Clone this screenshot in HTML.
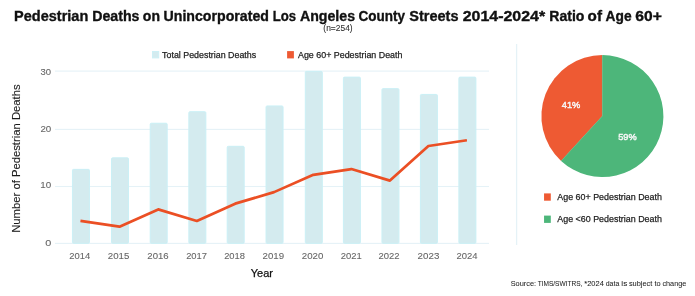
<!DOCTYPE html>
<html><head><meta charset="utf-8"><style>
html,body{margin:0;padding:0;background:#fff;width:695px;height:296px;overflow:hidden}
svg{display:block;font-family:"Liberation Sans",sans-serif;will-change:transform}
.tick{font-size:9.5px;fill:#555}
.leg{font-size:8.8px;fill:#222}
</style></head><body>
<svg width="695" height="296" viewBox="0 0 695 296">
<text x="14.13" y="21.2" font-size="14.4" font-weight="bold" stroke="#111" stroke-width="0.35" fill="#111" textLength="74.12" lengthAdjust="spacingAndGlyphs">Pedestrian</text>
<text x="92.25" y="21.2" font-size="14.4" font-weight="bold" stroke="#111" stroke-width="0.35" fill="#111" textLength="47.23" lengthAdjust="spacingAndGlyphs">Deaths</text>
<text x="142.85" y="21.2" font-size="14.4" font-weight="bold" stroke="#111" stroke-width="0.35" fill="#111" textLength="17.12" lengthAdjust="spacingAndGlyphs">on</text>
<text x="163.55" y="21.2" font-size="14.4" font-weight="bold" stroke="#111" stroke-width="0.35" fill="#111" textLength="105.38" lengthAdjust="spacingAndGlyphs">Unincorporated</text>
<text x="272.72" y="21.2" font-size="14.4" font-weight="bold" stroke="#111" stroke-width="0.35" fill="#111" textLength="23.42" lengthAdjust="spacingAndGlyphs">Los</text>
<text x="299.95" y="21.2" font-size="14.4" font-weight="bold" stroke="#111" stroke-width="0.35" fill="#111" textLength="55.13" lengthAdjust="spacingAndGlyphs">Angeles</text>
<text x="358.45" y="21.2" font-size="14.4" font-weight="bold" stroke="#111" stroke-width="0.35" fill="#111" textLength="46.53" lengthAdjust="spacingAndGlyphs">County</text>
<text x="409.28" y="21.2" font-size="14.4" font-weight="bold" stroke="#111" stroke-width="0.35" fill="#111" textLength="49.21" lengthAdjust="spacingAndGlyphs">Streets</text>
<text x="462.75" y="21.2" font-size="14.4" font-weight="bold" stroke="#111" stroke-width="0.35" fill="#111" textLength="82.37" lengthAdjust="spacingAndGlyphs">2014-2024*</text>
<text x="549.36" y="21.2" font-size="14.4" font-weight="bold" stroke="#111" stroke-width="0.35" fill="#111" textLength="35.09" lengthAdjust="spacingAndGlyphs">Ratio</text>
<text x="587.61" y="21.2" font-size="14.4" font-weight="bold" stroke="#111" stroke-width="0.35" fill="#111" textLength="14.36" lengthAdjust="spacingAndGlyphs">of</text>
<text x="605.56" y="21.2" font-size="14.4" font-weight="bold" stroke="#111" stroke-width="0.35" fill="#111" textLength="26.01" lengthAdjust="spacingAndGlyphs">Age</text>
<text x="635.33" y="21.2" font-size="14.4" font-weight="bold" stroke="#111" stroke-width="0.35" fill="#111" textLength="26.51" lengthAdjust="spacingAndGlyphs">60+</text>
<text x="323.38" y="30.6" font-size="8.2" stroke="#333" stroke-width="0.1" fill="#333" textLength="29.24" lengthAdjust="spacingAndGlyphs">(n=254)</text>
<rect x="152.5" y="51.5" width="6.2" height="6.4" fill="#d4ebef" stroke="#cdf0f6" stroke-width="1"/>
<text x="162.10" y="57.7" font-size="9.0" stroke="#222" stroke-width="0.25" fill="#222" textLength="94.11" lengthAdjust="spacingAndGlyphs">Total Pedestrian Deaths</text>
<rect x="287.1" y="51.1" width="6.8" height="7.3" fill="#ee5a33"/>
<text x="297.98" y="57.7" font-size="9.0" stroke="#222" stroke-width="0.25" fill="#222" textLength="104.49" lengthAdjust="spacingAndGlyphs">Age 60+ Pedestrian Death</text>
<rect x="55" y="242.85" width="434" height="1.1" fill="#e5f2f7"/><rect x="55" y="185.95" width="434" height="1.1" fill="#e5f2f7"/><rect x="55" y="128.85" width="434" height="1.1" fill="#e5f2f7"/><rect x="55" y="70.55" width="434" height="1.1" fill="#e5f2f7"/>
<rect x="72.45" y="169.36" width="17" height="73.94" rx="1" fill="#d4ebef" stroke="#cbf0f6" stroke-width="1"/><rect x="111.50" y="157.83" width="17" height="85.47" rx="1" fill="#d4ebef" stroke="#cbf0f6" stroke-width="1"/><rect x="150.20" y="123.24" width="17" height="120.06" rx="1" fill="#d4ebef" stroke="#cbf0f6" stroke-width="1"/><rect x="188.85" y="111.71" width="17" height="131.59" rx="1" fill="#d4ebef" stroke="#cbf0f6" stroke-width="1"/><rect x="227.20" y="146.30" width="17" height="97.00" rx="1" fill="#d4ebef" stroke="#cbf0f6" stroke-width="1"/><rect x="266.05" y="105.94" width="17" height="137.36" rx="1" fill="#d4ebef" stroke="#cbf0f6" stroke-width="1"/><rect x="305.30" y="71.35" width="17" height="171.95" rx="1" fill="#d4ebef" stroke="#cbf0f6" stroke-width="1"/><rect x="343.40" y="77.12" width="17" height="166.19" rx="1" fill="#d4ebef" stroke="#cbf0f6" stroke-width="1"/><rect x="381.95" y="88.65" width="17" height="154.66" rx="1" fill="#d4ebef" stroke="#cbf0f6" stroke-width="1"/><rect x="420.40" y="94.41" width="17" height="148.89" rx="1" fill="#d4ebef" stroke="#cbf0f6" stroke-width="1"/><rect x="458.90" y="77.12" width="17" height="166.19" rx="1" fill="#d4ebef" stroke="#cbf0f6" stroke-width="1"/>
<polyline points="80.45,220.94 119.50,226.71 158.20,209.41 196.85,220.94 235.20,203.65 274.05,192.12 313.30,174.82 351.40,169.06 389.95,180.59 428.40,146.00 466.90,140.23" fill="none" stroke="#eb4f24" stroke-width="2.7" stroke-linejoin="round"/>
<text x="40.54" y="74.9" font-size="9.9" stroke="#666" stroke-width="0.1" fill="#666" textLength="10.53" lengthAdjust="spacingAndGlyphs">30</text><text x="40.41" y="132.1" font-size="9.9" stroke="#666" stroke-width="0.1" fill="#666" textLength="10.87" lengthAdjust="spacingAndGlyphs">20</text><text x="40.35" y="188.1" font-size="9.9" stroke="#666" stroke-width="0.1" fill="#666" textLength="10.93" lengthAdjust="spacingAndGlyphs">10</text><text x="45.28" y="245.5" font-size="9.9" stroke="#666" stroke-width="0.1" fill="#666" textLength="6.05" lengthAdjust="spacingAndGlyphs">0</text>
<text x="69.23" y="258.5" font-size="9.8" stroke="#666" stroke-width="0.1" fill="#666" textLength="20.95" lengthAdjust="spacingAndGlyphs">2014</text>
<text x="107.81" y="258.5" font-size="9.8" stroke="#666" stroke-width="0.1" fill="#666" textLength="21.60" lengthAdjust="spacingAndGlyphs">2015</text>
<text x="147.32" y="258.5" font-size="9.8" stroke="#666" stroke-width="0.1" fill="#666" textLength="21.30" lengthAdjust="spacingAndGlyphs">2016</text>
<text x="186.13" y="258.5" font-size="9.8" stroke="#666" stroke-width="0.1" fill="#666" textLength="20.84" lengthAdjust="spacingAndGlyphs">2017</text>
<text x="224.13" y="258.5" font-size="9.8" stroke="#666" stroke-width="0.1" fill="#666" textLength="20.78" lengthAdjust="spacingAndGlyphs">2018</text>
<text x="262.51" y="258.5" font-size="9.8" stroke="#666" stroke-width="0.1" fill="#666" textLength="21.55" lengthAdjust="spacingAndGlyphs">2019</text>
<text x="301.81" y="258.5" font-size="9.8" stroke="#666" stroke-width="0.1" fill="#666" textLength="21.57" lengthAdjust="spacingAndGlyphs">2020</text>
<text x="340.72" y="258.5" font-size="9.8" stroke="#666" stroke-width="0.1" fill="#666" textLength="21.04" lengthAdjust="spacingAndGlyphs">2021</text>
<text x="378.42" y="258.5" font-size="9.8" stroke="#666" stroke-width="0.1" fill="#666" textLength="21.05" lengthAdjust="spacingAndGlyphs">2022</text>
<text x="417.61" y="258.5" font-size="9.8" stroke="#666" stroke-width="0.1" fill="#666" textLength="21.72" lengthAdjust="spacingAndGlyphs">2023</text>
<text x="456.52" y="258.5" font-size="9.8" stroke="#666" stroke-width="0.1" fill="#666" textLength="21.05" lengthAdjust="spacingAndGlyphs">2024</text>
<g transform="translate(20.3,0) rotate(-90)"><text x="-232.82" y="0" font-size="10.3" stroke="#1a1a1a" stroke-width="0.1" fill="#1a1a1a" textLength="148.43" lengthAdjust="spacingAndGlyphs">Number of Pedestrian Deaths</text></g>
<text x="250.77" y="276.9" font-size="10.6" stroke="#111" stroke-width="0.25" fill="#111" textLength="22.21" lengthAdjust="spacingAndGlyphs">Year</text>
<line x1="516.6" x2="516.6" y1="44" y2="245" stroke="#e5f2f7" stroke-width="1.3"/>
<path d="M602.4,116.1 L602.4,55.099999999999994 A61,61 0 0 0 561.11,161.00 Z" fill="#ee5a33"/>
<path d="M602.4,116.1 L602.4,55.099999999999994 A61,61 0 1 1 561.11,161.00 Z" fill="#4db67a"/>
<polyline points="602.4,55.39999999999999 602.4,116.1 561.11,161.00" fill="none" stroke="#4db67a" stroke-width="0.5"/>
<text x="561.79" y="108.2" font-size="9.8" stroke="#f6f6f6" stroke-width="0.45" fill="#f6f6f6" textLength="18.54" lengthAdjust="spacingAndGlyphs">41%</text>
<text x="618.23" y="140.2" font-size="9.8" stroke="#f6f6f6" stroke-width="0.45" fill="#f6f6f6" textLength="18.50" lengthAdjust="spacingAndGlyphs">59%</text>
<rect x="544.05" y="193.4" width="6.75" height="7.3" fill="#ee5a33"/>
<text x="557.28" y="200.2" font-size="9.2" stroke="#222" stroke-width="0.25" fill="#222" textLength="104.65" lengthAdjust="spacingAndGlyphs">Age 60+ Pedestrian Death</text>
<rect x="544.05" y="215.6" width="6.75" height="7.3" fill="#4db67a"/>
<text x="557.28" y="221.6" font-size="9.2" stroke="#222" stroke-width="0.25" fill="#222" textLength="104.65" lengthAdjust="spacingAndGlyphs">Age &lt;60 Pedestrian Death</text>
<text x="510.67" y="285.9" font-size="7.6" stroke="#222" stroke-width="0.05" fill="#222" textLength="25.41" lengthAdjust="spacingAndGlyphs">Source:</text>
<text x="537.65" y="285.9" font-size="7.6" stroke="#222" stroke-width="0.05" fill="#222" textLength="44.74" lengthAdjust="spacingAndGlyphs">TIMS/SWITRS,</text>
<text x="584.28" y="285.9" font-size="7.6" stroke="#222" stroke-width="0.05" fill="#222" textLength="19.54" lengthAdjust="spacingAndGlyphs">*2024</text>
<text x="605.71" y="285.9" font-size="7.6" stroke="#222" stroke-width="0.05" fill="#222" textLength="13.59" lengthAdjust="spacingAndGlyphs">data</text>
<text x="621.35" y="285.9" font-size="7.6" stroke="#222" stroke-width="0.05" fill="#222" textLength="5.95" lengthAdjust="spacingAndGlyphs">is</text>
<text x="628.89" y="285.9" font-size="7.6" stroke="#222" stroke-width="0.05" fill="#222" textLength="23.36" lengthAdjust="spacingAndGlyphs">subject</text>
<text x="654.49" y="285.9" font-size="7.6" stroke="#222" stroke-width="0.05" fill="#222" textLength="6.12" lengthAdjust="spacingAndGlyphs">to</text>
<text x="662.39" y="285.9" font-size="7.6" stroke="#222" stroke-width="0.05" fill="#222" textLength="23.93" lengthAdjust="spacingAndGlyphs">change</text>
</svg>
</body></html>
